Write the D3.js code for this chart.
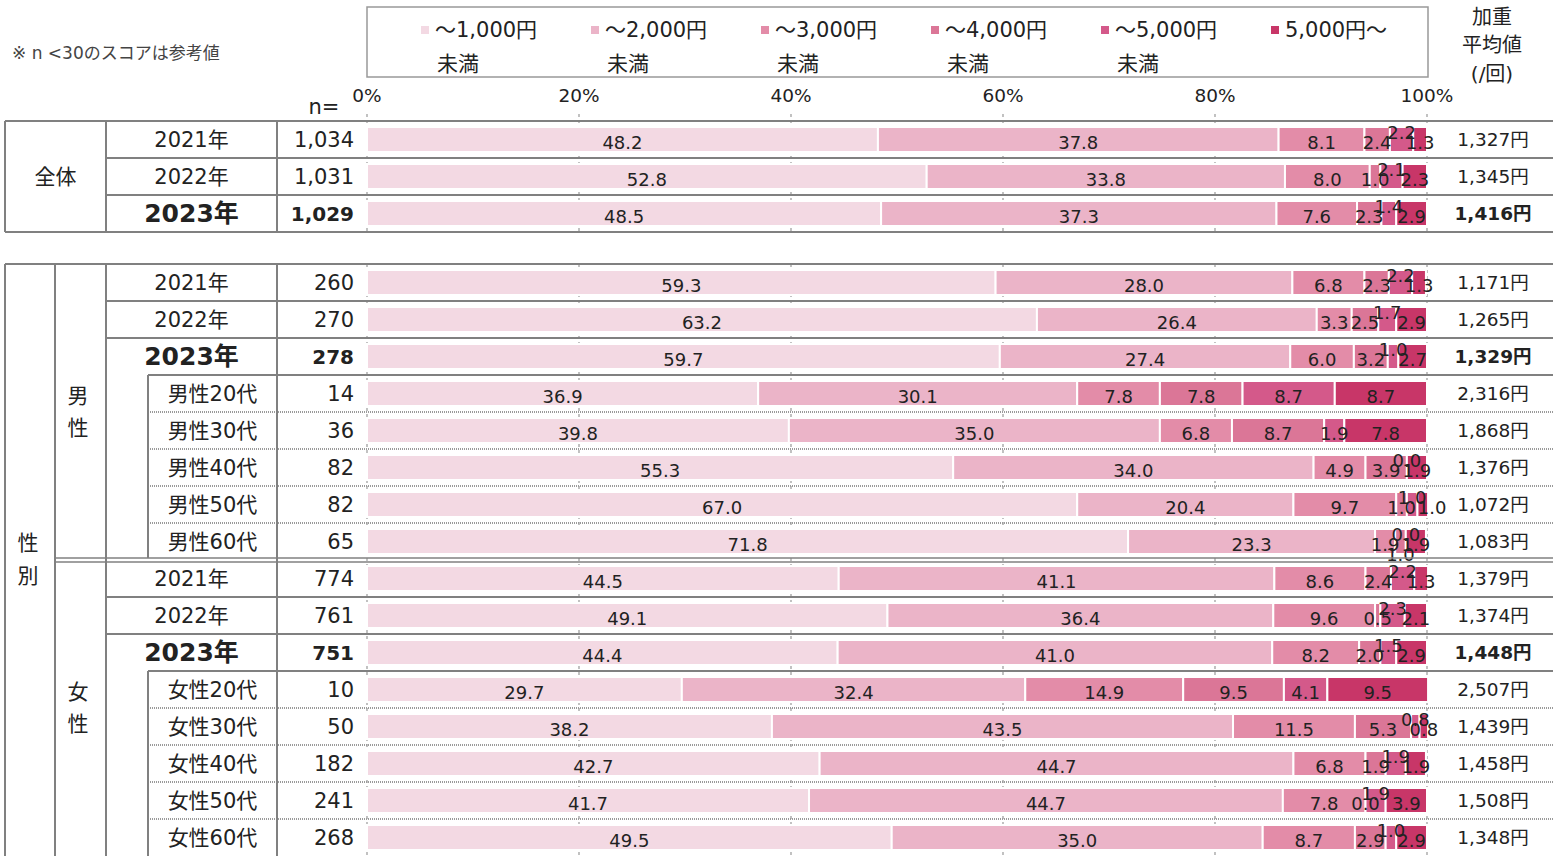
<!DOCTYPE html>
<html><head><meta charset="utf-8">
<script src="https://cdn.jsdelivr.net/npm/d3@7"></script>
<style>
html,body{margin:0;padding:0;background:#fff;}
svg text{font-family:"DejaVu Sans","Noto Sans CJK JP",sans-serif;fill:#222;}
</style></head>
<body><svg id="c" width="1553" height="856"></svg>
<script>
// ---------- data ----------
const seriesNames = ["～1,000円|未満","～2,000円|未満","～3,000円|未満","～4,000円|未満","～5,000円|未満","5,000円～"];
const seriesColors = ["#f3d9e3","#ebb4c8","#e38ca8","#db7697","#d4598a","#c83668"];
const tickLabels = ["0%","20%","40%","60%","80%","100%"];
const tickValues = [0,20,40,60,80,100];

const rowLabels = ["2021年","2022年","2023年",
  "2021年","2022年","2023年","男性20代","男性30代","男性40代","男性50代","男性60代",
  "2021年","2022年","2023年","女性20代","女性30代","女性40代","女性50代","女性60代"];
const rowKinds = ["year","year","year",
  "year","year","year","age","age","age","age","age",
  "year","year","year","age","age","age","age","age"];
const rowBold = [false,false,true, false,false,true,false,false,false,false,false, false,false,true,false,false,false,false,false];
const rowSection = [0,0,0, 1,1,1,1,1,1,1,1, 1,1,1,1,1,1,1,1];
const nValues = ["1,034","1,031","1,029","260","270","278","14","36","82","82","65","774","761","751","10","50","182","241","268"];
const avgValues = ["1,327円","1,345円","1,416円","1,171円","1,265円","1,329円","2,316円","1,868円","1,376円","1,072円","1,083円",
  "1,379円","1,374円","1,448円","2,507円","1,439円","1,458円","1,508円","1,348円"];

const sUnder1000 = [48.2,52.8,48.5, 59.3,63.2,59.7,36.9,39.8,55.3,67.0,71.8, 44.5,49.1,44.4,29.7,38.2,42.7,41.7,49.5];
const sUnder2000 = [37.8,33.8,37.3, 28.0,26.4,27.4,30.1,35.0,34.0,20.4,23.3, 41.1,36.4,41.0,32.4,43.5,44.7,44.7,35.0];
const sUnder3000 = [8.1,8.0,7.6, 6.8,3.3,6.0,7.8,6.8,4.9,9.7,1.9, 8.6,9.6,8.2,14.9,11.5,6.8,7.8,8.7];
const sUnder4000 = [2.4,1.0,2.3, 2.3,2.5,3.2,7.8,8.7,3.9,1.0,1.0, 2.4,0.5,2.0,9.5,5.3,1.9,0.0,2.9];
const sUnder5000 = [2.2,2.1,1.4, 2.2,1.7,1.0,8.7,1.9,0.0,1.0,0.0, 2.2,2.3,1.5,4.1,0.8,1.9,1.9,1.0];
const sOver5000  = [1.3,2.3,2.9, 1.3,2.9,2.7,8.7,7.8,1.9,1.0,1.9, 1.3,2.1,2.9,9.5,0.8,1.9,3.9,2.9];
const seriesValues = [sUnder1000,sUnder2000,sUnder3000,sUnder4000,sUnder5000,sOver5000];

// ---------- layout ----------
const svg = d3.select("#c");
const X0 = 367, X1 = 1427;
const colL = 5, colG = 55, colY = 106, colA = 148, colN = 277, W = 1553;
const avgX = 1493;
const x = d3.scaleLinear().domain([0,100]).range([X0,X1]);
const sec0 = d3.range(0,3), sec1 = d3.range(3,19);
const y0 = d3.scaleBand().domain(sec0).range([121,232]);
const y1 = d3.scaleBand().domain(sec1).range([264,856]);
const yRow = i => rowSection[i]===0 ? y0(i) : y1(i);
const step = 37;
const barPad = 6, barH = 25;
const LINE = "#808080";
const LBL = 18;

// note
svg.append("text").attr("x",12).attr("y",53).attr("dy","0.35em").style("font-size","17px").style("fill","#444")
  .text("※ n <30のスコアは参考値");

// legend
svg.append("rect").attr("x",367).attr("y",7).attr("width",1061).attr("height",70)
  .attr("fill","none").attr("stroke","#999").attr("stroke-width",1.5);
const lg = svg.append("g").selectAll("g").data(seriesNames).join("g")
  .attr("transform",(d,i)=>`translate(${421+i*170},0)`);
lg.append("rect").attr("x",0).attr("y",26).attr("width",8).attr("height",8).attr("fill",(d,i)=>seriesColors[i]);
lg.append("text").attr("x",14).attr("y",30).attr("dy","0.35em").style("font-size","21px").text(d=>d.split("|")[0]);
lg.append("text").attr("x",16).attr("y",64).attr("dy","0.35em").style("font-size","21px").text(d=>d.split("|")[1]||"");

// header
[["加重",17],["平均値",45],["(/回)",74]].forEach(([t,yy])=>{
  svg.append("text").attr("x",1492).attr("y",yy).attr("dy","0.35em").attr("text-anchor","middle").style("font-size","20px").text(t);
});
svg.append("text").attr("x",324).attr("y",107).attr("dy","0.35em").attr("text-anchor","middle").style("font-size","21px").text("n=");

// axis tick labels
svg.append("g").selectAll("text").data(tickValues).join("text")
  .attr("x",d=>x(d)).attr("y",96).attr("dy","0.35em").attr("text-anchor","middle").style("font-size","18.5px")
  .text((d,i)=>tickLabels[i]);

// gridlines (dashed, behind bars)
const grid = svg.append("g");
[[114,232],[264,856]].forEach(([a,b])=>{
  grid.selectAll(null).data(tickValues).join("line")
    .attr("x1",d=>x(d)).attr("x2",d=>x(d)).attr("y1",a).attr("y2",b)
    .attr("stroke","#999").attr("stroke-width",1.2).attr("stroke-dasharray","3,3");
});

// bars
const rows = d3.range(rowLabels.length).map(i=>{
  let cum = 0;
  return seriesValues.map((s,k)=>{ const seg = {row:i,k,v:s[i],a:cum,b:cum+s[i]}; cum += s[i]; return seg; });
});
const barG = svg.append("g");
rows.forEach((segs,i)=>{
  barG.selectAll(null).data(segs).join("rect")
    .attr("x",d=>x(d.a)).attr("width",d=>Math.max(0,x(d.b)-x(d.a)))
    .attr("y",yRow(i)+barPad).attr("height",barH)
    .attr("fill",d=>seriesColors[d.k]).attr("stroke","#fff").attr("stroke-width",2);
});

// bar labels with simple collision avoidance
const ctx = document.createElement("canvas").getContext("2d");
ctx.font = LBL + "px 'DejaVu Sans'";
const lblG = svg.append("g");
rows.forEach((segs,i)=>{
  const gap = 0;
  const items = segs.map(d=>{
    const t = d.v.toFixed(1);
    const w = ctx.measureText(t).width;
    return {t,w,cx:(x(d.a)+x(d.b))/2,lvl:0};
  });
  const ov = (a,b)=> (a.cx-a.w/2) < (b.cx+b.w/2+gap) && (a.cx+a.w/2+gap) > (b.cx-b.w/2);
  const last = items.length-1;
  items.forEach((it,k)=>{
    if (k===0) return;
    const prevNormal = items.slice(0,k).filter(p=>p.lvl===0);
    const hitPrev = prevNormal.some(p=>ov(it,p));
    if (k===last) {
      if (hitPrev) {
        const pr = d3.max(prevNormal,p=>p.cx+p.w/2);
        it.cx = pr + 2 + it.w/2;
      }
      return;
    }
    const hitNextLast = (k===last-1) && ov(it,items[last]);
    if (hitPrev || hitNextLast) {
      const upUsed = items.slice(0,k).some(p=>p.lvl===-1 && ov(it,p));
      const downUsed = items.slice(0,k).some(p=>p.lvl===1 && ov(it,p));
      if (k===last-1) it.lvl = upUsed ? 1 : -1;
      else it.lvl = downUsed ? -1 : 1;
    }
  });
  items.forEach(it=>{
    lblG.append("text").attr("x",it.cx).attr("y",yRow(i)+step/2+3+it.lvl*10).attr("dy","0.35em")
      .attr("text-anchor","middle").style("font-size",LBL+"px").text(it.t);
  });
});

// row labels, n, averages
const rowG = svg.append("g");
d3.range(rowLabels.length).forEach(i=>{
  const cy = yRow(i)+step/2;
  const fs = rowBold[i] ? "25px" : "21px";
  const lx = rowKinds[i]==="age" ? (colA+colN)/2 : (colY+colN)/2;
  rowG.append("text").attr("x",lx).attr("y",cy).attr("dy","0.35em").attr("text-anchor","middle")
    .style("font-size",fs).style("font-weight",rowBold[i]?"bold":"normal").text(rowLabels[i]);
  rowG.append("text").attr("x",354).attr("y",cy).attr("dy","0.35em").attr("text-anchor","end")
    .style("font-size",rowBold[i]?"20px":"21px").style("font-weight",rowBold[i]?"bold":"normal").text(nValues[i]);
  rowG.append("text").attr("x",avgX).attr("y",cy).attr("dy","0.35em").attr("text-anchor","middle")
    .style("font-size","18.5px").style("font-weight",rowBold[i]?"bold":"normal").text(avgValues[i]);
});

// group labels
const gl = svg.append("g");
const gtext = (t,xx,yy)=>gl.append("text").attr("x",xx).attr("y",yy).attr("dy","0.35em").attr("text-anchor","middle").style("font-size","21px").text(t);
gtext("全体",(colL+colY)/2,176.5);
gtext("性",28,543); gtext("別",28,576);
gtext("男",78,396); gtext("性",78,428);
gtext("女",78,692); gtext("性",78,724);

// table lines
const lines = svg.append("g");
const hline = (y,xa,style)=>{
  if (style==="dot") {
    lines.append("line").attr("x1",xa).attr("x2",W).attr("y1",y).attr("y2",y)
      .attr("stroke","#9a9a9a").attr("stroke-width",2).attr("stroke-dasharray","1,1");
  } else if (style==="double") {
    [y-2,y+2].forEach(yy=>lines.append("line").attr("x1",xa).attr("x2",W).attr("y1",yy).attr("y2",yy)
      .attr("stroke",LINE).attr("stroke-width",1.5));
  } else {
    lines.append("line").attr("x1",xa).attr("x2",W).attr("y1",y).attr("y2",y)
      .attr("stroke",LINE).attr("stroke-width",2);
  }
};
const vline = (xx,a,b)=>lines.append("line").attr("x1",xx).attr("x2",xx).attr("y1",a).attr("y2",b)
  .attr("stroke",LINE).attr("stroke-width",2);

d3.range(rowLabels.length).forEach(i=>{
  const top = yRow(i);
  const first = i===0 || rowSection[i]!==rowSection[i-1];
  if (first) hline(top,colL,"solid");
  else if (i===11) hline(top,colG,"double");
  else if (rowKinds[i]==="age" && rowKinds[i-1]==="year") hline(top,colA,"solid");
  else if (rowKinds[i]==="age") hline(top,colA,"dot");
  else hline(top,colY,"solid");
});
hline(232,colL,"solid");
// verticals
vline(colL,121,232); vline(colY,121,232); vline(colN,121,232);
vline(colL,264,856); vline(colG,264,856); vline(colY,264,856); vline(colN,264,856);
vline(colA,y1(6),y1(11)-2); vline(colA,y1(14),856);
</script></body></html>
